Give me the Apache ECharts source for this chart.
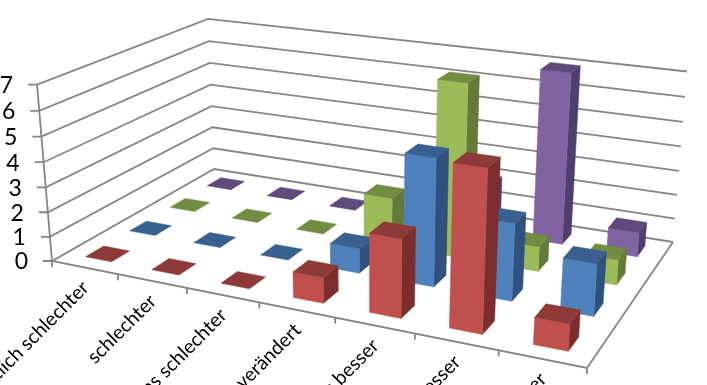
<!DOCTYPE html>
<html><head><meta charset="utf-8">
<style>html,body{margin:0;padding:0;background:#fff}#c{width:707px;height:385px}</style>
<script src="https://cdn.jsdelivr.net/npm/echarts@6/dist/echarts.min.js"></script>
</head><body><div id="c"></div>
<script>
const categories = ['deutlich schlechter','schlechter','etwas schlechter','unverändert','etwas besser','besser','deutlich besser'];
const yTicks = [0,1,2,3,4,5,6,7];
const seriesRed    = [0,0,0,1,3,6,1];
const seriesBlue   = [0,0,0,1,5,3,2];
const seriesGreen  = [0,0,0,2,7,1,1];
const seriesPurple = [0,0,0,0,2,7,1];

// projection of the floor and walls
const FL=[52,261], FR=[587,368], BR=[673,242], BL=[214,169];
const TOPS=[[[0,0],[37,85]],[[1,1],[687,71]],[[0,1],[208,19]]];
const BAR=0.4;

function floorH(){
  const [x0,y0]=FL,[x1,y1]=FR,[x2,y2]=BR,[x3,y3]=BL;
  const sx=x0-x1+x2-x3, sy=y0-y1+y2-y3, dx1=x1-x2, dx2=x3-x2, dy1=y1-y2, dy2=y3-y2;
  const d=dx1*dy2-dx2*dy1, g=(sx*dy2-dx2*sy)/d, h=(dx1*sy-sx*dy1)/d;
  return [x1-x0+g*x1, x3-x0+h*x3, x0, y1-y0+g*y1, y3-y0+h*y3, y0, g, h, 1];
}
const H=floorH();
function floorHom(u,v){return [H[0]*u+H[1]*v+H[2],H[3]*u+H[4]*v+H[5],H[6]*u+H[7]*v+H[8]];}
function solveVert(){
  // least squares for the homogeneous vertical column
  const A=[],b=[];
  TOPS.forEach(([[u,v],[sx,sy]])=>{
    const [X,Y,W]=floorHom(u,v);
    A.push([1,0,-sx]);b.push(sx*W-X);
    A.push([0,1,-sy]);b.push(sy*W-Y);
  });
  const M=[[0,0,0,0],[0,0,0,0],[0,0,0,0]];
  A.forEach((r,k)=>{for(let i=0;i<3;i++){for(let j=0;j<3;j++)M[i][j]+=r[i]*r[j];M[i][3]+=r[i]*b[k];}});
  for(let i=0;i<3;i++){
    let p=i;for(let r=i+1;r<3;r++)if(Math.abs(M[r][i])>Math.abs(M[p][i]))p=r;
    [M[i],M[p]]=[M[p],M[i]];
    for(let r=0;r<3;r++)if(r!==i){const f=M[r][i]/M[i][i];for(let c=i;c<4;c++)M[r][c]-=f*M[i][c];}
  }
  return [M[0][3]/M[0][0],M[1][3]/M[1][1],M[2][3]/M[2][2]];
}
const V=solveVert();
function proj(u,v,z){
  const [X,Y,W]=floorHom(u,v);
  const w=W+V[2]*z;
  return [(X+V[0]*z)/w,(Y+V[1]*z)/w];
}

const LINE='#868686';
const line=(pts,w)=>({type:'polyline',shape:{points:pts},style:{stroke:LINE,lineWidth:w||1.8,fill:null},silent:true});

function barSeries(name,values,row,cols){
  return {
    type:'custom',name,silent:true,clip:false,
    data:values.map((v,i)=>[i,v]),
    encode:{x:0,y:1},
    z:10+(3-row),
    renderItem(params,api){
      const cs=params.coordSys;
      const c=api.coord([api.value(0),api.value(1)]);
      const cw=api.size([1,0])[0];
      const uc=(c[0]-cs.x)/cs.width, hw=cw/cs.width*BAR/2;
      const z=(cs.y+cs.height-c[1])/cs.height;
      const u0=uc-hw,u1=uc+hw;
      const v0=(row+0.5-BAR/2)/4, v1=(row+0.5+BAR/2)/4;
      const poly=(pts,fill)=>({type:'polygon',shape:{points:pts},style:{fill,stroke:fill,lineWidth:0.5},silent:true});
      const kids=[];
      if(z>0){
        kids.push(poly([proj(u1,v0,0),proj(u1,v1,0),proj(u1,v1,z),proj(u1,v0,z)],cols[2]));
        kids.push(poly([proj(u0,v0,0),proj(u1,v0,0),proj(u1,v0,z),proj(u0,v0,z)],cols[0]));
      }
      kids.push(poly([proj(u0,v0,z),proj(u1,v0,z),proj(u1,v1,z),proj(u0,v1,z)],cols[1]));
      return {type:'group',children:kids};
    }
  };
}

const option={
  animation:false,
  backgroundColor:'#fff',
  grid:{left:0,right:0,top:0,bottom:0},
  xAxis:{type:'category',data:categories,show:false},
  yAxis:{type:'value',min:0,max:7,interval:1,show:false},
  series:[
    { // value gridlines, ticks, labels
      type:'custom',silent:true,clip:false,z:2,
      data:yTicks.map(t=>[0,t]),encode:{x:0,y:1},
      renderItem(params,api){
        const cs=params.coordSys;
        const z=(cs.y+cs.height-api.coord([0,api.value(1)])[1])/cs.height;
        const a=proj(0,0,z),b=proj(0,1,z),d=proj(1,1,z);
        return {type:'group',children:[
          line([[a[0]-9,a[1]],a,b,d]),
          {type:'text',x:a[0]-24,y:a[1]+1,style:{text:String(api.value(1)),font:'23px Lato',fill:'#000',textAlign:'right',textVerticalAlign:'middle'},silent:true}
        ]};
      }
    },
    { // frame and category labels
      type:'custom',silent:true,clip:false,z:3,
      data:categories.map((c,i)=>[i,0]),encode:{x:0,y:1},
      renderItem(params,api){
        const cs=params.coordSys, i=api.value(0);
        const c=api.coord([i,0]), cw=api.size([1,0])[0];
        const uc=(c[0]-cs.x)/cs.width, hw=cw/cs.width/2;
        const t=proj(uc+hw,0,0), m=proj(uc,0,0);
        const kids=[line([t,[t[0],t[1]+6]]),
          {type:'text',x:m[0]+1,y:m[1]+17,rotation:Math.PI/4,originX:0,originY:0,
           style:{text:categories[i],font:'19.5px Lato',fill:'#000',textAlign:'right',textVerticalAlign:'middle'},silent:true}];
        if(i===0) kids.push(line([proj(0,0,1),proj(0,0,0),proj(1,0,0),proj(1,1,0)]),line([proj(0,0,0),[proj(0,0,0)[0],proj(0,0,0)[1]+6]]));
        return {type:'group',children:kids};
      }
    },
    barSeries('Reihe 4',seriesPurple,3,['#8064A2','#604A7B','#523D6F']),
    barSeries('Reihe 3',seriesGreen,2,['#9BBB59','#728C42','#647A38']),
    barSeries('Reihe 2',seriesBlue,1,['#4F81BD','#3A6090','#2F527F']),
    barSeries('Reihe 1',seriesRed,0,['#C0504D','#8E3A38','#7B2E2C'])
  ]
};
const chart=echarts.init(document.getElementById('c'),null,{renderer:'canvas'});
chart.setOption(option);
</script></body></html>
